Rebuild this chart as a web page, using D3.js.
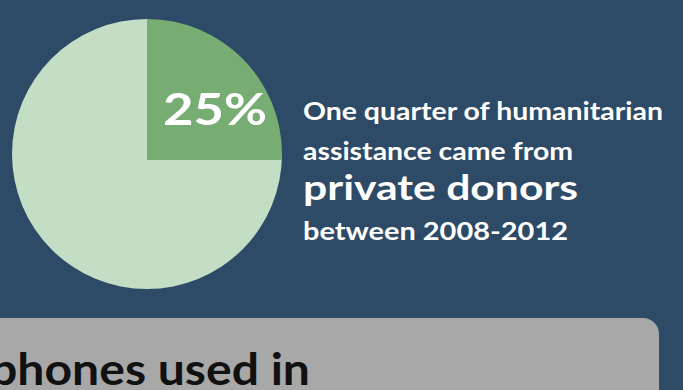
<!DOCTYPE html>
<html>
<head>
<meta charset="utf-8">
<script src="https://cdn.jsdelivr.net/npm/d3@7"></script>
<style>
  html, body { margin: 0; padding: 0; background: #2d4a66; overflow: hidden; }
</style>
</head>
<body>
<div id="chart"></div>
<script>
// share of humanitarian assistance, 2008-2012
const shareLabels = ["Private donors", "Other sources"];
const shareValues = [25, 75];
const shareColors = ["#77ac73", "#c3dec4"];

const bigLabel = "25%";
const captionLines = [
  {text: "One quarter of humanitarian", size: 24, len: 360},
  {text: "assistance came from", size: 24, len: 270},
  {text: "private donors", size: 34, len: 275},
  {text: "between 2008-2012", size: 24, len: 265}
];
const captionBaselines = [120, 160, 200, 240];
const footerText = "phones used in";

const width = 683, height = 390;
const cx = 147, cy = 154, r = 135;

const svg = d3.select("#chart")
  .append("svg")
    .attr("width", width)
    .attr("height", height)
    .style("font-family", "Lato, 'Open Sans', sans-serif");

svg.append("rect")
    .attr("width", width)
    .attr("height", height)
    .attr("fill", "#2d4a66");

const pie = d3.pie().sort(null).startAngle(0).endAngle(2 * Math.PI);
const arcs = pie(shareValues);

svg.append("clipPath")
    .attr("id", "pieClip")
  .append("circle")
    .attr("cx", cx)
    .attr("cy", cy)
    .attr("r", r);

// big remaining slice
svg.append("path")
    .attr("transform", `translate(${cx},${cy})`)
    .attr("d", d3.arc().innerRadius(0).outerRadius(r)(arcs[1]))
    .attr("fill", shareColors[1]);

// highlighted slice, corner sits a little lower than the circle centre
svg.append("g")
    .attr("clip-path", "url(#pieClip)")
  .append("path")
    .attr("transform", `translate(${cx},${cy + 6})`)
    .attr("d", d3.arc().innerRadius(0).outerRadius(r + 20)(arcs[0]))
    .attr("fill", shareColors[0]);

svg.append("text")
    .attr("x", 163)
    .attr("y", 125)
    .attr("fill", "#fff")
    .attr("font-size", 44)
    .attr("font-weight", 700)
    .attr("textLength", 104)
    .attr("lengthAdjust", "spacingAndGlyphs")
    .text(bigLabel);

svg.selectAll("text.caption")
  .data(captionLines)
  .join("text")
    .attr("class", "caption")
    .attr("x", 303)
    .attr("y", (d, i) => captionBaselines[i])
    .attr("fill", "#fff")
    .attr("font-size", d => d.size)
    .attr("font-weight", 700)
    .attr("textLength", d => d.len)
    .attr("lengthAdjust", "spacingAndGlyphs")
    .text(d => d.text);

// next panel peeking in at the bottom
svg.append("rect")
    .attr("x", -20)
    .attr("y", 318)
    .attr("width", 679)
    .attr("height", 120)
    .attr("rx", 16)
    .attr("fill", "#a8a8a8");

svg.append("text")
    .attr("x", -10)
    .attr("y", 385)
    .attr("fill", "#111")
    .attr("font-size", 44)
    .attr("font-weight", 700)
    .attr("textLength", 320)
    .attr("lengthAdjust", "spacingAndGlyphs")
    .text(footerText);
</script>
</body>
</html>
